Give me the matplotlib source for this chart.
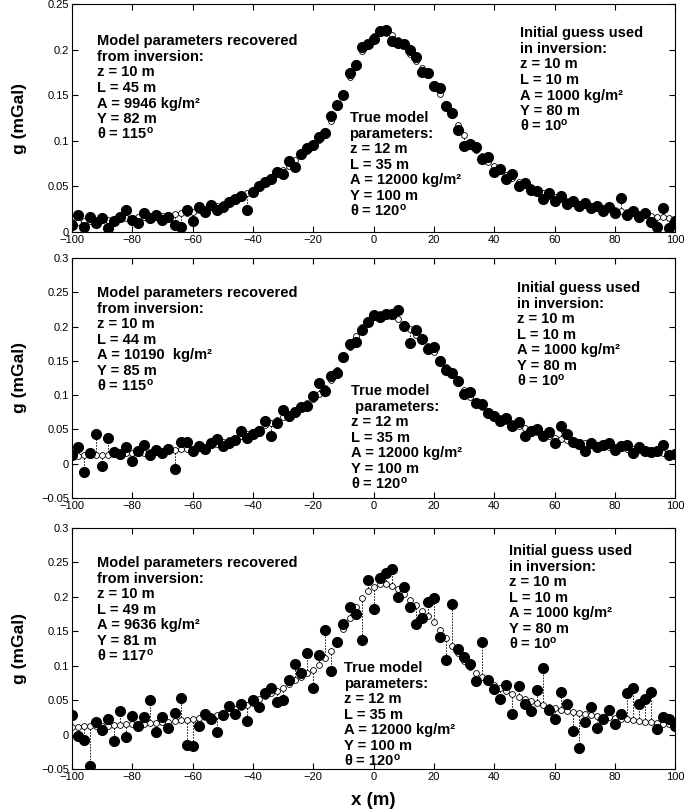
import numpy as np
import matplotlib
matplotlib.use('Agg')
import matplotlib.pyplot as plt
from matplotlib.ticker import FuncFormatter

plt.rcParams['font.family'] = ['Liberation Sans', 'DejaVu Sans']
plt.rcParams['mathtext.fontset'] = 'custom'
plt.rcParams['mathtext.rm'] = 'Liberation Sans:bold'
plt.rcParams['mathtext.it'] = 'Liberation Sans:bold'
plt.rcParams['mathtext.bf'] = 'Liberation Sans:bold'

### profile positions (m), one station every 2 m
x = np.arange(-100, 101, 2)

### modelled anomaly (open circles)
model = [0.011, 0.011, 0.012, 0.012, 0.013, 0.013, 0.013, 0.014, 0.014, 0.015,
         0.015, 0.016, 0.016, 0.017, 0.017, 0.018, 0.019, 0.020, 0.021, 0.021,
         0.022, 0.024, 0.025, 0.027, 0.029, 0.031, 0.034, 0.037, 0.040, 0.043,
         0.046, 0.051, 0.056, 0.060, 0.064, 0.068, 0.073, 0.079, 0.084, 0.089,
         0.094, 0.101, 0.111, 0.122, 0.137, 0.153, 0.170, 0.186, 0.199, 0.209,
         0.215, 0.219, 0.219, 0.216, 0.211, 0.204, 0.196, 0.188, 0.180, 0.172,
         0.163, 0.152, 0.141, 0.129, 0.118, 0.107, 0.098, 0.090, 0.083, 0.077,
         0.072, 0.067, 0.063, 0.059, 0.055, 0.052, 0.049, 0.046, 0.043, 0.040,
         0.038, 0.036, 0.034, 0.033, 0.031, 0.030, 0.028, 0.027, 0.026, 0.025,
         0.024, 0.023, 0.022, 0.021, 0.020, 0.019, 0.018, 0.017, 0.016, 0.015,
         0.014]

### noisy "observed" data (black dots), one list per panel
data_low = [0.008, 0.019, 0.006, 0.016, 0.010, 0.015, 0.004, 0.012, 0.017, 0.024,
            0.013, 0.010, 0.021, 0.015, 0.019, 0.013, 0.016, 0.008, 0.006, 0.024,
            0.012, 0.027, 0.022, 0.030, 0.024, 0.027, 0.033, 0.036, 0.039, 0.024,
            0.044, 0.050, 0.055, 0.058, 0.066, 0.064, 0.078, 0.071, 0.086, 0.092,
            0.096, 0.104, 0.109, 0.127, 0.140, 0.150, 0.175, 0.183, 0.203, 0.207,
            0.212, 0.221, 0.222, 0.210, 0.208, 0.206, 0.200, 0.192, 0.176, 0.175,
            0.160, 0.158, 0.138, 0.131, 0.112, 0.094, 0.097, 0.093, 0.080, 0.082,
            0.066, 0.069, 0.058, 0.064, 0.050, 0.054, 0.046, 0.045, 0.036, 0.043,
            0.034, 0.039, 0.031, 0.034, 0.029, 0.032, 0.026, 0.028, 0.023, 0.027,
            0.021, 0.037, 0.019, 0.023, 0.016, 0.021, 0.011, 0.005, 0.026, 0.004,
            0.012]

data_mid = [0.012, 0.025, -0.012, 0.016, 0.043, -0.003, 0.038, 0.017, 0.014, 0.025,
            0.004, 0.018, 0.027, 0.013, 0.020, 0.015, 0.022, -0.008, 0.031, 0.032,
            0.018, 0.026, 0.022, 0.030, 0.036, 0.026, 0.030, 0.034, 0.048, 0.037,
            0.043, 0.047, 0.062, 0.040, 0.060, 0.079, 0.070, 0.076, 0.083, 0.084,
            0.099, 0.118, 0.106, 0.128, 0.132, 0.156, 0.175, 0.178, 0.195, 0.207,
            0.217, 0.214, 0.218, 0.219, 0.224, 0.201, 0.176, 0.195, 0.182, 0.168,
            0.170, 0.150, 0.137, 0.133, 0.120, 0.102, 0.104, 0.088, 0.087, 0.074,
            0.070, 0.062, 0.066, 0.055, 0.061, 0.040, 0.048, 0.051, 0.040, 0.046,
            0.030, 0.055, 0.044, 0.032, 0.029, 0.018, 0.030, 0.025, 0.028, 0.030,
            0.020, 0.026, 0.028, 0.016, 0.025, 0.019, 0.017, 0.019, 0.027, 0.012,
            0.014]

data_high = [0.028, -0.002, -0.008, -0.045, 0.018, 0.006, 0.022, -0.009, 0.034, -0.004,
             0.027, 0.012, 0.026, 0.050, 0.004, 0.025, 0.010, 0.032, 0.053, -0.015,
             -0.016, 0.012, 0.030, 0.022, 0.004, 0.028, 0.042, 0.030, 0.045, 0.020,
             0.050, 0.040, 0.060, 0.068, 0.048, 0.050, 0.080, 0.103, 0.090, 0.118,
             0.068, 0.115, 0.152, 0.093, 0.135, 0.160, 0.185, 0.175, 0.138, 0.225,
             0.182, 0.228, 0.234, 0.240, 0.200, 0.215, 0.185, 0.160, 0.170, 0.192,
             0.198, 0.142, 0.108, 0.190, 0.125, 0.112, 0.102, 0.078, 0.135, 0.080,
             0.066, 0.052, 0.072, 0.030, 0.070, 0.045, 0.034, 0.065, 0.097, 0.035,
             0.022, 0.062, 0.045, 0.005, -0.020, 0.018, 0.040, 0.010, 0.022, 0.035,
             0.015, 0.030, 0.060, 0.068, 0.045, 0.052, 0.062, 0.008, 0.026, 0.022,
             0.012]

### annotation text blocks
true_txt = [
    ['True model', 'parameters:', 'z = 12 m', 'L = 35 m',
     'A = 12000 kg/m\u00b2', 'Y = 100 m', '\u03b8 = 120$^o$'],
    ['True model', ' parameters:', 'z = 12 m', 'L = 35 m',
     'A = 12000 kg/m\u00b2', 'Y = 100 m', '\u03b8 = 120$^o$'],
    ['True model', 'parameters:', 'z = 12 m', 'L = 35 m',
     'A = 12000 kg/m\u00b2', 'Y = 100 m', '\u03b8 = 120$^o$'],
]
guess_txt = ['Initial guess used', 'in inversion:', 'z = 10 m', 'L = 10 m',
             'A = 1000 kg/m\u00b2', 'Y = 80 m', '\u03b8 = 10$^o$']
rec_txt = [
    ['Model parameters recovered', 'from inversion:', 'z = 10 m', 'L = 45 m',
     'A = 9946 kg/m\u00b2', 'Y = 82 m', '\u03b8 = 115$^o$'],
    ['Model parameters recovered', 'from inversion:', 'z = 10 m', 'L = 44 m',
     'A = 10190  kg/m\u00b2', 'Y = 85 m', '\u03b8 = 115$^o$'],
    ['Model parameters recovered', 'from inversion:', 'z = 10 m', 'L = 49 m',
     'A = 9636 kg/m\u00b2', 'Y = 81 m', '\u03b8 = 117$^o$'],
]

datasets = [data_low, data_mid, data_high]
ylims = [(0, 0.25), (-0.05, 0.3), (-0.05, 0.3)]
yticks = [np.arange(0, 0.251, 0.05), np.arange(-0.05, 0.301, 0.05), np.arange(-0.05, 0.301, 0.05)]

# axes rectangles [left, bottom, width, height] in figure fraction
rects = [[0.105, 0.7136, 0.881, 0.281],
         [0.105, 0.3852, 0.881, 0.2963],
         [0.105, 0.0506, 0.881, 0.2975]]
# text anchors (axes fraction, left edge / first baseline): recovered, guess, true
rec_pos = [(0.041, 0.820), (0.041, 0.8375), (0.041, 0.838)]
guess_pos = [(0.742, 0.855), (0.737, 0.858), (0.724, 0.888)]
true_pos = [(0.46, 0.482), (0.463, 0.429), (0.451, 0.402)]
LINE_STEP = 11.2  # points between baselines

fmt = FuncFormatter(lambda v, p: ('%g' % round(v, 3)).replace('-', '\u2212'))


def text_block(ax, pos, lines):
    ###one annotate per line so superscripts don't push the spacing around
    for k, line in enumerate(lines):
        ax.annotate(line, xy=pos, xycoords='axes fraction',
                    xytext=(0, -k * LINE_STEP), textcoords='offset points',
                    ha='left', va='baseline', fontsize=10.5, fontweight='bold')


fig = plt.figure(figsize=(6.85, 8.10), dpi=100)
for i in range(3):
    ax = fig.add_axes(rects[i])
    d = datasets[i]
    ax.vlines(x, model, d, colors='k', linestyles=(0, (2, 1.5)), linewidth=0.6, zorder=1)
    ax.plot(x, model, 'o', ms=4.2, mfc='white', mec='k', mew=0.6, zorder=2)
    ax.plot(x, d, 'o', ms=7.0, mfc='k', mec='k', zorder=3)

    ax.set_xlim(-100, 100)
    ax.set_ylim(*ylims[i])
    ax.set_xticks(np.arange(-100, 101, 20))
    ax.set_yticks(yticks[i])
    ax.yaxis.set_major_formatter(fmt)
    ax.xaxis.set_major_formatter(fmt)
    ax.tick_params(direction='in', top=True, right=True, length=4, width=0.8,
                   labelsize=8, pad=2)
    for s in ax.spines.values():
        s.set_linewidth(0.8)

    ax.set_ylabel('g (mGal)', fontsize=12.5, fontweight='bold')
    ax.yaxis.set_label_coords(-0.075, 0.5)

    text_block(ax, rec_pos[i], rec_txt[i])
    text_block(ax, guess_pos[i], guess_txt)
    text_block(ax, true_pos[i], true_txt[i])

    if i == 2:
        ax.set_xlabel('x (m)', fontsize=13.5, fontweight='bold')
        ax.xaxis.set_label_coords(0.5, -0.095)

fig.savefig('out.png', dpi=100)
